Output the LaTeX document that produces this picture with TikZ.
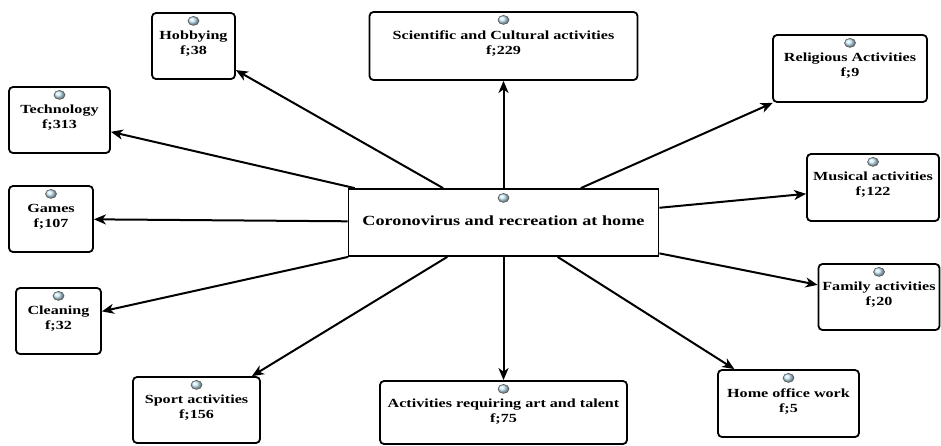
\documentclass[tikz,border=0pt]{standalone}
\usepackage{fontspec}
\setmainfont[FakeStretch=1.3]{Liberation Serif}
\usetikzlibrary{positioning,arrows.meta,shapes.geometric}
\definecolor{orbblue}{RGB}{205,238,252}

\begin{document}
\begin{tikzpicture}[x=1pt,y=-1pt]
    % `leaf' is used for the category boxes, `hub' for the central box.
    % `bead' is the small ball on top of each box, `caption' its text.
    \tikzstyle{leaf} = [draw,fill=white,line width=1.8pt,rounded corners=4pt,minimum height=66pt,inner sep=0pt]
    \tikzstyle{hub} = [draw,fill=white,line width=1.8pt,minimum width=310pt,minimum height=67pt,inner sep=0pt]
    \tikzstyle{bead} = [ellipse,draw=black!65,line width=0.6pt,shading=ball,ball color=orbblue,minimum width=11pt,minimum height=9pt,inner sep=0pt]
    \tikzstyle{caption} = [font=\bfseries\fontsize{12.4}{15}\selectfont,align=center,inner sep=0pt]
    \tikzstyle{link} = [line width=2pt,-{Stealth[length=12pt,width=10pt,inset=3.5pt]}]
    \useasboundingbox (0,0) rectangle (941,445);
    %
    % Central box.
    \node[hub] (ctr) at (503.5,222.5) {};
    \node[bead,below=5pt of ctr.north] (ctr-o) {};
    \node[caption,font=\bfseries\fontsize{14}{17}\selectfont,below=27pt of ctr.north] (ctr-t) {Coronovirus and recreation at home};
    %
    % Left side.
    \node[leaf,minimum width=83pt] (hob) at (193.5,46) {};
    \node[bead,below=4pt of hob.north] (hob-o) {};
    \node[caption,below=19pt of hob.north] (hob-t) {Hobbying\\f;38};
    \node[leaf,minimum width=101pt] (tech) at (59.5,120) {};
    \node[bead,below=4pt of tech.north] (tech-o) {};
    \node[caption,below=19pt of tech.north] (tech-t) {Technology\\f;313};
    \node[leaf,minimum width=84pt] (game) at (51,219) {};
    \node[bead,below=4pt of game.north] (game-o) {};
    \node[caption,below=19pt of game.north] (game-t) {Games\\f;107};
    \node[leaf,minimum width=85pt] (clean) at (58.5,321) {};
    \node[bead,below=4pt of clean.north] (clean-o) {};
    \node[caption,below=19pt of clean.north] (clean-t) {Cleaning\\f;32};
    \node[leaf,minimum width=127pt] (sport) at (196.5,410) {};
    \node[bead,below=4pt of sport.north] (sport-o) {};
    \node[caption,below=19pt of sport.north] (sport-t) {Sport activities\\f;156};
    %
    % Top and bottom.
    \node[leaf,minimum width=268pt,minimum height=68pt] (sci) at (503.5,46) {};
    \node[bead,below=4pt of sci.north] (sci-o) {};
    \node[caption,below=19pt of sci.north] (sci-t) {Scientific and Cultural activities\\f;229};
    \node[leaf,minimum width=247pt,minimum height=63pt] (art) at (503.5,412.5) {};
    \node[bead,below=4pt of art.north] (art-o) {};
    \node[caption,below=19pt of art.north] (art-t) {Activities requiring art and talent\\f;75};
    %
    % Right side.
    \node[leaf,minimum width=154pt,minimum height=67pt] (rel) at (850,68.5) {};
    \node[bead,below=4pt of rel.north] (rel-o) {};
    \node[caption,below=19pt of rel.north] (rel-t) {Religious Activities\\f;9};
    \node[leaf,minimum width=132pt,minimum height=67pt] (mus) at (873,187.5) {};
    \node[bead,below=4pt of mus.north] (mus-o) {};
    \node[caption,below=19pt of mus.north] (mus-t) {Musical activities\\f;122};
    \node[leaf,minimum width=121pt] (fam) at (879,297) {};
    \node[bead,below=4pt of fam.north] (fam-o) {};
    \node[caption,below=19pt of fam.north] (fam-t) {Family activities\\f;20};
    \node[leaf,minimum width=141pt,minimum height=67pt] (home) at (788.5,403.5) {};
    \node[bead,below=4pt of home.north] (home-o) {};
    \node[caption,below=19pt of home.north] (home-t) {Home office work\\f;5};
    %
    % Draw arrows.
    \foreach \n in {hob,tech,game,clean,sport,sci,art,rel,mus,fam,home}
        \draw[link] (ctr) -- (\n);
\end{tikzpicture}
\end{document}
